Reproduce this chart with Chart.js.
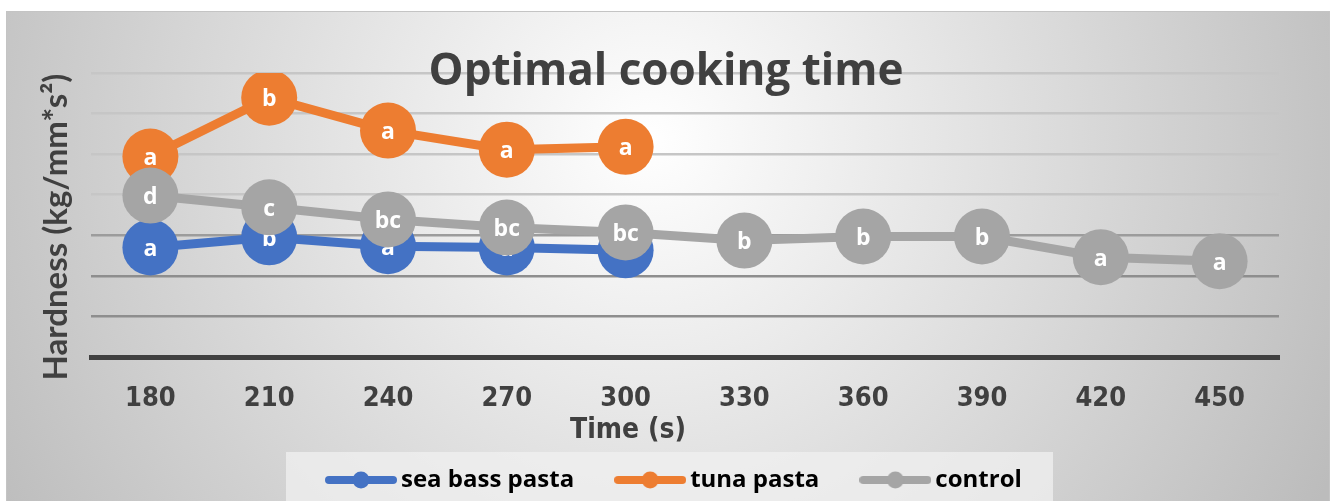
<!DOCTYPE html>
<html>
<head>
<meta charset="utf-8">
<script src="https://cdn.jsdelivr.net/npm/chart.js@4.4.1/dist/chart.umd.min.js"></script>
<style>
  html, body { margin: 0; padding: 0; background: #fff; }
  #wrap { position: relative; width: 1332px; height: 501px; }
</style>
</head>
<body>
<div id="wrap"><canvas id="myChart"></canvas></div>
<script>
// cooking time (s)
var times = ['180', '210', '240', '270', '300', '330', '360', '390', '420', '450'];
// hardness (gridline units)
var seaBass = [2.70, 2.95, 2.73, 2.70, 2.63];
var tuna = [4.94, 6.39, 5.58, 5.11, 5.18];
var control = [3.98, 3.69, 3.39, 3.19, 3.07, 2.87, 2.97, 2.97, 2.46, 2.36];
// significance letters shown in the markers
var seaBassLetters = ['a', 'b', 'a', 'a', 'a'];
var tunaLetters = ['a', 'b', 'a', 'a', 'a'];
var controlLetters = ['d', 'c', 'bc', 'bc', 'bc', 'b', 'b', 'b', 'a', 'a'];

var narrow = "'DejaVu Sans', sans-serif";
var narrowWeight = 'bold condensed';

function legendKey(color) {
    var c = document.createElement('canvas');
    c.width = 72; c.height = 18;
    var g = c.getContext('2d');
    g.strokeStyle = color;
    g.lineWidth = 8;
    g.lineCap = 'round';
    g.beginPath(); g.moveTo(4, 9); g.lineTo(68, 9); g.stroke();
    g.fillStyle = color;
    g.beginPath(); g.arc(36, 9, 8.5, 0, Math.PI * 2); g.fill();
    return c;
}

var chartLook = {
    id: 'chartLook',
    afterLayout: function (chart) {
        var lg = chart.legend;
        lg.left = 285;
        lg.right = chart.width;
        lg.top = 420;
    },
    beforeDraw: function (chart) {
        var c = chart.ctx;
        c.save();
        c.fillStyle = '#fff';
        c.fillRect(0, 0, chart.width, chart.height);
        var grad = c.createRadialGradient(650, 140, 0, 650, 140, 760);
        grad.addColorStop(0, '#ffffff');
        grad.addColorStop(1, '#bcbcbc');
        c.fillStyle = grad;
        c.fillRect(6, 11, chart.width - 8, chart.height - 11);
        c.strokeStyle = '#c4c4c4';
        c.lineWidth = 1;
        c.strokeRect(6.5, 11.5, chart.width - 9, chart.height);
        // legend box
        c.fillStyle = 'rgba(240,240,240,0.75)';
        c.fillRect(chart.legend.left + 1, 452, 767, chart.height - 452);
        c.restore();
    },
    beforeDatasetsDraw: function (chart) {
        var c = chart.ctx, a = chart.chartArea;
        c.save();
        c.fillStyle = '#404040';
        c.textAlign = 'center';
        c.textBaseline = 'alphabetic';
        c.font = "bold 44px 'Open Sans'";
        c.fillText('Optimal cooking time', chart.width / 2, 85);
        c.font = narrowWeight + ' 28px ' + narrow;
        c.fillText('Time (s)', (a.left + a.right) / 2 - 57, 438);
        c.restore();
    },
    afterDatasetDraw: function (chart, args) {
        var letters = [seaBassLetters, tunaLetters, controlLetters][args.index];
        var c = chart.ctx;
        c.save();
        c.fillStyle = '#fff';
        c.textAlign = 'center';
        c.textBaseline = 'middle';
        c.font = "bold 23px 'Open Sans'";
        args.meta.data.forEach(function (pt, i) {
            c.fillText(letters[i], pt.x, pt.y + 2);
        });
        c.restore();
    }
};

var colors = ['#4472C4', '#ED7D31', '#A5A5A5'];

var ctx = document.getElementById('myChart').getContext('2d');
var myChart = new Chart(ctx, {
    type: 'line',
    data: {
        labels: times,
        datasets: [{
            label: 'sea bass pasta',
            data: seaBass,
            borderColor: colors[0],
            backgroundColor: colors[0],
            order: 2
        }, {
            label: 'tuna pasta',
            data: tuna,
            borderColor: colors[1],
            backgroundColor: colors[1],
            order: 1
        }, {
            label: 'control',
            data: control,
            borderColor: colors[2],
            backgroundColor: colors[2],
            order: 0
        }]
    },
    options: {
        responsive: true,
        maintainAspectRatio: false,
        animation: false,
        layout: { padding: { top: 73, right: 53, left: 0, bottom: 0 } },
        elements: {
            line: { borderWidth: 9, tension: 0 },
            point: { radius: 28, hoverRadius: 28, borderWidth: 0 }
        },
        plugins: {
            tooltip: { enabled: false },
            legend: {
                position: 'bottom',
                align: 'start',
                labels: {
                    usePointStyle: true,
                    pointStyleWidth: 56,
                    padding: 48,
                    color: '#000',
                    font: { family: 'Open Sans', size: 24, weight: 'bold' },
                    generateLabels: function (chart) {
                        return chart.data.datasets.map(function (ds, i) {
                            return {
                                text: ds.label,
                                pointStyle: legendKey(colors[i]),
                                fillStyle: colors[i],
                                strokeStyle: colors[i],
                                lineWidth: 0,
                                fontColor: '#000',
                                hidden: false,
                                datasetIndex: i
                            };
                        });
                    }
                }
            }
        },
        scales: {
            x: {
                offset: true,
                grid: { display: false, drawTicks: false },
                border: { display: true, color: '#404040', width: 5 },
                ticks: {
                    color: '#404040',
                    padding: 26,
                    font: { family: narrow, size: 27, weight: narrowWeight }
                },
                afterFit: function (scale) { scale.height = 62; }
            },
            y: {
                min: 0,
                max: 7,
                ticks: { display: false, stepSize: 1 },
                border: { display: false },
                grid: {
                    drawTicks: false,
                    color: function (c) {
                        var v = c.tick.value;
                        if (v <= 2) return '#8e8e8e';
                        if (v === 3) return '#9c9c9c';
                        return '#c6c6c6';
                    },
                    lineWidth: function (c) { return c.tick.value === 0 ? 0 : 2.5; }
                },
                title: {
                    display: true,
                    text: 'Hardness (kg/mm*s²)   ',
                    color: '#404040',
                    padding: { top: 37, bottom: 0 },
                    font: { family: 'Lato', size: 33, weight: 'bold' }
                },
                afterFit: function (scale) { scale.width = 91; }
            }
        }
    },
    plugins: [chartLook]
});
</script>
</body>
</html>
